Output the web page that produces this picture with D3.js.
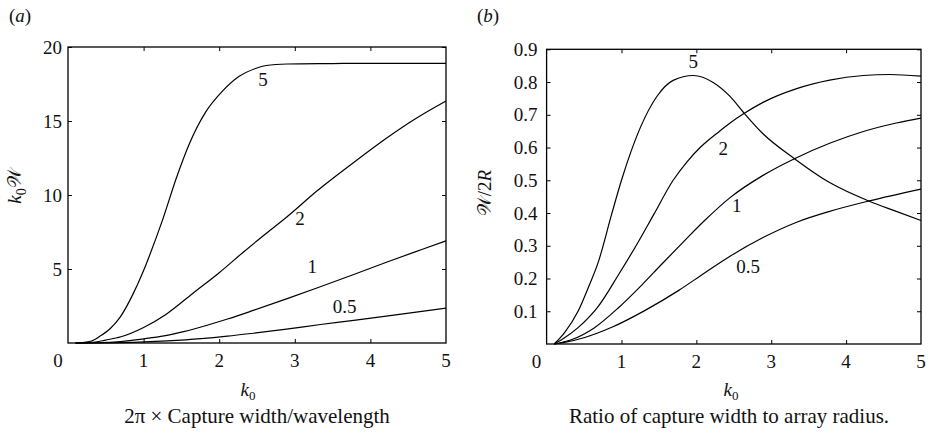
<!DOCTYPE html>
<html>
<head>
<meta charset="utf-8">
<style>
body { margin: 0; background: #fff; }
#root {
    width: 929px;
    height: 441px;
}
#root svg { font-family: "Liberation Serif", "Times New Roman", serif; }
#root text { fill: #111; font-family: "Liberation Serif", "Times New Roman", serif; }
.frame { fill: none; stroke: #000; stroke-width: 1.3; }
.tick line { stroke: #000; stroke-width: 1; }
.curve { fill: none; stroke: #000; stroke-width: 1.2; }
</style>
<script src="https://cdnjs.cloudflare.com/ajax/libs/d3/7.8.5/d3.min.js"></script>
</head>
<body>
<div id="root"></div>
<script>
// shared k0 axis
var k0Ticks = [0, 1, 2, 3, 4, 5];
var radiusLabels = ["5", "2", "1", "0.5"];

// (a) k0 W against k0 as [k0, value]
var yTicksA = [5, 10, 15, 20];
var capA5 = [[0.1,0],[0.3,0.12],[0.42,0.45],[0.56,0.98],[0.69,1.75],[0.85,3.2],[1.0,4.9],[1.07,5.8],[1.25,8.3],[1.43,11.1],[1.6,13.4],[1.82,15.6],[2.04,17.0],[2.26,18.0],[2.48,18.55],[2.62,18.75],[2.9,18.85],[3.5,18.88],[4,18.9],[5,18.9]];
var capA2 = [[0.1,0],[0.3,0.03],[0.5,0.2],[0.7,0.42],[1.0,1.05],[1.3,1.95],[1.65,3.35],[2.0,4.75],[2.31,6.1],[2.62,7.4],[2.89,8.5],[3.3,10.3],[3.78,12.2],[4.23,13.9],[4.58,15.1],[5,16.35]];
var capA1 = [[0.1,0],[0.4,0.02],[0.7,0.1],[1.0,0.28],[1.27,0.48],[1.53,0.77],[1.84,1.2],[2.11,1.62],[2.45,2.2],[2.89,2.98],[3.31,3.75],[3.78,4.63],[4.23,5.49],[4.67,6.3],[5,6.9]];
var capA05 = [[0.1,0],[0.5,0.01],[0.87,0.045],[1.31,0.14],[1.76,0.29],[2.11,0.46],[2.45,0.66],[2.89,0.94],[3.34,1.25],[3.78,1.53],[4.31,1.88],[5,2.36]];
// where the radius labels sit, in data units
var labelPosA = [[2.58,17.8],[3.07,8.45],[3.23,5.16],[3.66,2.5]];

// (b) W/2R against k0
var yTicksB = [0.1, 0.2, 0.3, 0.4, 0.5, 0.6, 0.7, 0.8, 0.9];
var capB5 = [[0.1,0],[0.24,0.035],[0.42,0.1],[0.556,0.172],[0.69,0.25],[0.867,0.395],[1.0,0.5],[1.25,0.66],[1.47,0.755],[1.69,0.805],[1.96,0.82],[2.23,0.798],[2.45,0.756],[2.63,0.707],[2.89,0.642],[3.31,0.566],[3.78,0.493],[4.31,0.436],[4.67,0.405],[5,0.377]];
var capB2 = [[0.1,0],[0.2,0.013],[0.42,0.05],[0.69,0.115],[0.956,0.21],[1.22,0.31],[1.43,0.395],[1.69,0.5],[1.87,0.555],[2.05,0.6],[2.31,0.65],[2.45,0.675],[2.63,0.703],[2.89,0.738],[3.34,0.78],[3.78,0.806],[4.23,0.82],[4.58,0.823],[5,0.818]];
var capB1 = [[0.1,0],[0.33,0.013],[0.64,0.05],[0.956,0.11],[1.27,0.18],[1.53,0.242],[1.84,0.315],[2.11,0.377],[2.45,0.447],[2.89,0.515],[3.31,0.566],[3.78,0.613],[4.23,0.649],[4.67,0.675],[5,0.69]];
var capB05 = [[0.1,0],[0.24,0.005],[0.51,0.02],[0.87,0.051],[1.31,0.102],[1.76,0.163],[2.11,0.217],[2.45,0.268],[2.89,0.325],[3.34,0.372],[3.78,0.405],[4.31,0.437],[5,0.473]];
var labelPosB = [[1.96,0.862],[2.36,0.598],[2.54,0.4245],[2.69,0.236]];

var svg = d3.select("#root").append("svg")
    .attr("width", 929)
    .attr("height", 441)
    .attr("font-family", "Liberation Serif, Times New Roman, serif");

function drawPanel(p) {
    var g = svg.append("g");
    var x = d3.scaleLinear().domain([0, 5]).range([p.left, p.right]);
    var y = d3.scaleLinear().domain([0, p.yMax]).range([p.bottom, p.top]);

    // ticks point inwards on all four sides
    var inner = k0Ticks.slice(1, -1);
    g.append("g").attr("transform", "translate(0," + p.bottom + ")")
        .call(d3.axisTop(x).tickValues(inner).tickSize(4).tickFormat(""));
    g.append("g").attr("transform", "translate(0," + p.top + ")")
        .call(d3.axisBottom(x).tickValues(inner).tickSize(4).tickFormat(""));
    g.append("g").attr("transform", "translate(" + p.left + ",0)")
        .call(d3.axisRight(y).tickValues(p.yTicks).tickSize(4).tickFormat(""));
    g.append("g").attr("transform", "translate(" + p.right + ",0)")
        .call(d3.axisLeft(y).tickValues(p.yTicks).tickSize(4).tickFormat(""));
    g.selectAll(".domain").remove();

    g.append("rect").attr("class", "frame")
        .attr("x", p.left).attr("y", p.top)
        .attr("width", p.right - p.left).attr("height", p.bottom - p.top);

    g.selectAll("text.xlab").data(k0Ticks).enter().append("text")
        .attr("class", "xlab")
        .attr("x", function(d) { return x(d) - (d === 0 ? 10 : 0); })
        .attr("y", p.bottom + 24)
        .attr("text-anchor", "middle")
        .style("font-size", "19px")
        .text(function(d) { return d; });

    g.selectAll("text.ylab").data(p.yTicks).enter().append("text")
        .attr("class", "ylab")
        .attr("x", p.left - p.yGap)
        .attr("y", function(d) { return y(d); })
        .attr("dy", "0.35em")
        .attr("text-anchor", "end")
        .style("font-size", "19px")
        .text(p.yFormat);

    var line = d3.line()
        .x(function(d) { return x(d[0]); })
        .y(function(d) { return y(d[1]); })
        .curve(d3.curveMonotoneX);

    g.selectAll("path.curve").data(p.series).enter().append("path")
        .attr("class", "curve")
        .attr("d", line);

    g.selectAll("text.rlab").data(p.labelPos).enter().append("text")
        .attr("class", "rlab")
        .attr("x", function(d) { return x(d[0]); })
        .attr("y", function(d) { return y(d[1]); })
        .attr("dy", "0.35em")
        .attr("text-anchor", "middle")
        .style("font-size", "19px")
        .text(function(d, i) { return radiusLabels[i]; });

    // panel letter
    var tag = g.append("text").attr("x", p.tagX).attr("y", 22).style("font-size", "19px");
    tag.append("tspan").text("(");
    tag.append("tspan").style("font-style", "italic").text(p.tag);
    tag.append("tspan").text(")");

    // k0 under the axis
    var xt = g.append("text").attr("x", p.kX).attr("y", 396)
        .attr("text-anchor", "middle").style("font-size", "19px");
    xt.append("tspan").style("font-style", "italic").text("k");
    xt.append("tspan").attr("dy", 4).style("font-size", "13px").text("0");

    g.append("text").attr("x", p.capX).attr("y", 423)
        .attr("text-anchor", "middle").style("font-size", "21px")
        .text(p.caption);

    return g;
}

var gA = drawPanel({
    left: 68, right: 446, top: 47, bottom: 343, yMax: 20,
    yTicks: yTicksA, yGap: 6, yFormat: function(d) { return d; },
    series: [capA5, capA2, capA1, capA05], labelPos: labelPosA,
    tag: "a", tagX: 9, kX: 248, capX: 257,
    caption: "2\u03c0 \u00d7 Capture width/wavelength"
});

var gB = drawPanel({
    left: 546.6, right: 921, top: 49.3, bottom: 344, yMax: 0.9,
    yTicks: yTicksB, yGap: 9, yFormat: d3.format(".1f"),
    series: [capB5, capB2, capB1, capB05], labelPos: labelPosB,
    tag: "b", tagX: 477, kX: 731, capX: 729,
    caption: "Ratio of capture width to array radius."
});

// rotated y titles
var ya = gA.append("text").attr("transform", "translate(21,186)rotate(-90)")
    .attr("text-anchor", "middle").style("font-size", "19px");
ya.append("tspan").style("font-style", "italic").text("k");
ya.append("tspan").attr("dy", 5).style("font-size", "14px").text("0");
ya.append("tspan").attr("dy", -5).text("\ud835\udcb2");

var yb = gB.append("text").attr("transform", "translate(491,193)rotate(-90)")
    .attr("text-anchor", "middle").style("font-size", "19px");
yb.append("tspan").text("\ud835\udcb2");
yb.append("tspan").text("/2");
yb.append("tspan").style("font-style", "italic").text("R");
</script>
</body>
</html>
